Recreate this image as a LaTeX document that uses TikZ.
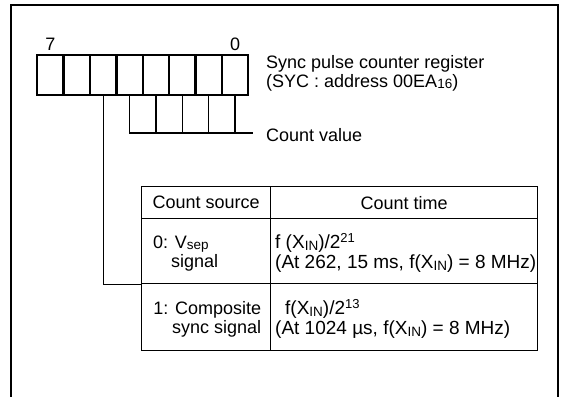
\documentclass[tikz,border=0pt]{standalone}
\usepackage{fontspec}
\setmainfont{Liberation Sans}
\usetikzlibrary{positioning}

\newcommand{\lowtxt}[1]{\raisebox{-1.5pt}{\fontsize{13.5}{13.5}\selectfont #1}}
\newcommand{\hightxt}[1]{\raisebox{6.5pt}{\fontsize{13}{13}\selectfont #1}}

\begin{document}
\begin{tikzpicture}[x=1pt, y=-1pt,
    bitbox/.style={draw, line width=2.4pt, minimum width=26.4pt, minimum height=40pt, inner sep=0pt, anchor=north west},
    cell/.style={draw, line width=1.3pt, inner sep=0pt, anchor=north west},
    wire/.style={line width=1.3pt},
    txt/.style={inner sep=0pt, font=\fontsize{18}{19}\selectfont, align=left},
    timetxt/.style={txt, font=\fontsize{19}{20}\selectfont}]
    \useasboundingbox (0,0) rectangle (566,397);

    % Khung ngoai
    \draw[line width=2.6pt] (11,397) -- (11,5) -- (558,5) -- (558,397);

    % Thanh ghi 8 bit
    \foreach \i in {0,...,7}
        \node[bitbox] (b\i) at ({36+(7-\i)*26.375},54) {};
    \node[txt, above=3pt of b7] (msb) {7};
    \node[txt, above=3pt of b0] (lsb) {0};
    \node[txt, anchor=west] (reglbl) at (266,73)
        {Sync pulse counter register\\(SYC : address 00EA\lowtxt{16})};

    % Gia tri dem (bit 4 - bit 0)
    \coordinate (cvend) at (253,133);
    \draw[wire] (b4.south) |- (cvend);
    \foreach \i in {3,...,0}
        \draw[wire] (b\i.south) -- (b\i.south |- cvend);
    \node[txt, right=13pt of cvend, yshift=-2.5pt] (cvlbl) {Count value};

    % Bang nguon dem
    \node[cell, minimum width=129pt, minimum height=32pt] (hsrc) at (141,186) {};
    \node[cell, minimum width=267pt, minimum height=32pt] (htime) at (270,186) {};
    \node[cell, minimum width=129pt, minimum height=65pt] (srczero) at (141,218) {};
    \node[cell, minimum width=267pt, minimum height=65pt] (timezero) at (270,218) {};
    \node[cell, minimum width=129pt, minimum height=67pt] (srcone) at (141,283) {};
    \node[cell, minimum width=267pt, minimum height=67pt] (timeone) at (270,283) {};

    \node[txt] (hsrctxt) at (hsrc) {Count source};
    \node[txt] (htimetxt) at (htime) {Count time};
    \node[txt, anchor=west] (srczerotxt) at ([xshift=12pt, yshift=-2pt]srczero.west)
        {0: V\lowtxt{sep}\\\hspace*{18pt}signal};
    \node[timetxt, anchor=west] (timezerotxt) at ([xshift=5pt, yshift=-2pt]timezero.west)
        {f (X\lowtxt{IN})/2\hightxt{21}\\(At 262, 15 ms, f(X\lowtxt{IN}) = 8 MHz)};
    \node[txt, anchor=east, align=right] (srconetxt) at ([xshift=-10pt, yshift=-2pt]srcone.east)
        {1: Composite\\sync signal};
    \node[timetxt, anchor=west] (timeonetxt) at ([xshift=5pt, yshift=-2pt]timeone.west)
        {\hspace*{10pt}f(X\lowtxt{IN})/2\hightxt{13}\\(At 1024 µs, f(X\lowtxt{IN}) = 8 MHz)};

    % Bit 5: chon nguon dem
    \draw[wire] (b5.south) |- (srczero.south west);
\end{tikzpicture}
\end{document}
